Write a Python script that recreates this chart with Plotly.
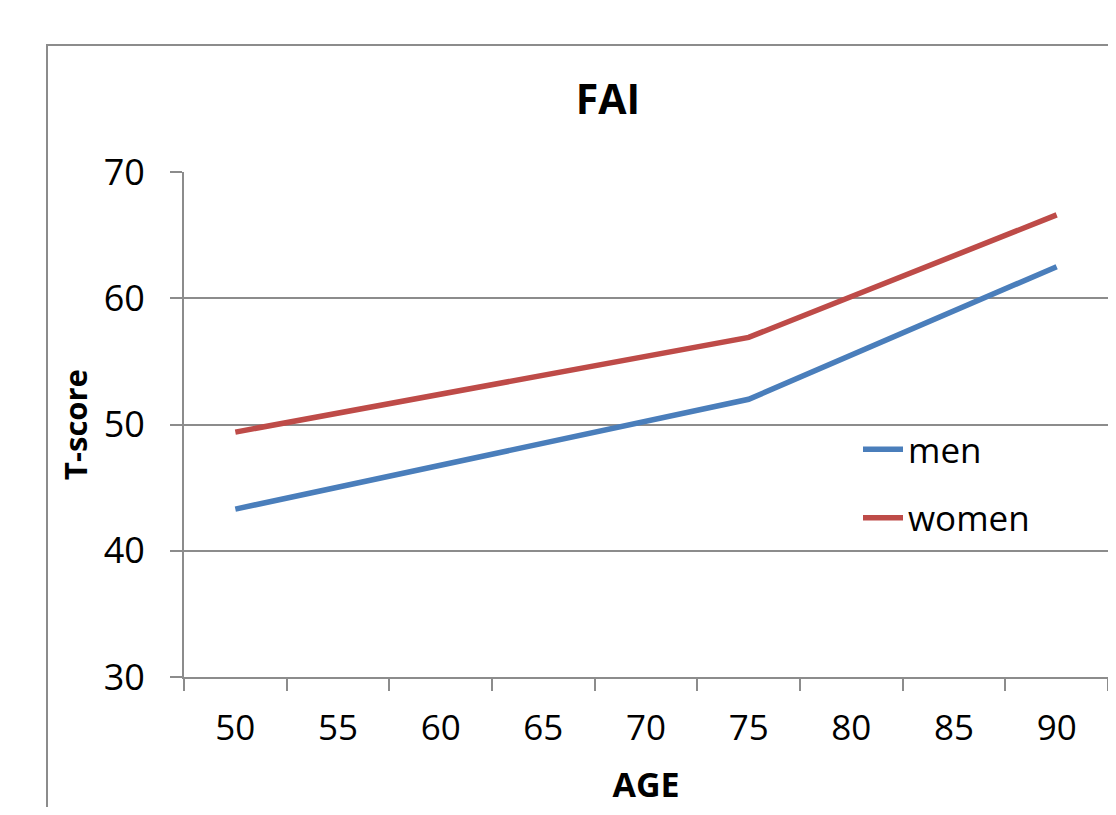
import plotly.graph_objects as go

ages = [50, 75, 90]
men = [43.3, 52.0, 62.5]
women = [49.4, 56.9, 66.6]
tick_ages = [50, 55, 60, 65, 70, 75, 80, 85, 90]
y_ticks = [30, 40, 50, 60, 70]

FONT = "Open Sans"
fig = go.Figure()
fig.add_trace(go.Scatter(x=ages, y=men, mode="lines", name="men", legendgroup="m",
                         line=dict(color="#4a7ebb", width=5.5)))
fig.add_trace(go.Scatter(x=ages, y=women, mode="lines", name="women", legendgroup="w",
                         line=dict(color="#be4b48", width=5.5)))

# figure coords (page has an 8px body margin)
W, H = 1100, 799
L, R, T, B = 176, 0, 164, 130
pw, ph = W - L - R, H - T - B

def px(x):
    return (x - L) / pw

def py(y):
    return (H - B - y) / ph

fig.add_shape(type="rect", xref="paper", yref="paper",
              x0=px(39), x1=px(1130), y0=py(830), y1=py(37),
              line=dict(color="#8c8c8c", width=2), layer="below")

fig.update_layout(
    width=W, height=H,
    margin=dict(l=L, r=R, t=T, b=B),
    paper_bgcolor="white", plot_bgcolor="white",
    font=dict(family=FONT, color="black"),
    title=dict(text="<b>FAI</b>", xref="container", yref="container",
               x=600 / W, xanchor="center",
               y=1 - 92 / H, yanchor="middle",
               font=dict(size=41, family=FONT)),
    showlegend=True,
    legend=dict(x=px(850), y=py(412), xanchor="left", yanchor="top",
                font=dict(size=35, family=FONT), bgcolor="rgba(0,0,0,0)",
                itemwidth=40, tracegroupgap=20),
    xaxis=dict(range=[47.5, 92.5], tickvals=tick_ages,
               ticktext=[str(a) for a in tick_ages],
               ticks="", showgrid=False, zeroline=False,
               showline=True, linecolor="#8c8c8c", linewidth=2,
               tickfont=dict(size=35, family=FONT),
               ticklabelstandoff=19,
               minor=dict(tick0=47.5, dtick=5, ticks="outside", ticklen=12,
                          tickcolor="#8c8c8c", tickwidth=2, showgrid=False),
               title=dict(text="<b>AGE</b>", font=dict(size=34, family=FONT),
                          standoff=26)),
    yaxis=dict(range=[30, 70], tickvals=y_ticks, ticks="outside", ticklen=12,
               tickcolor="#8c8c8c", tickwidth=2,
               showgrid=True, gridcolor="#8c8c8c", gridwidth=2,
               zeroline=False, showline=True, linecolor="#8c8c8c", linewidth=2,
               tickfont=dict(size=36, family=FONT), ticklabelstandoff=18,
               title=dict(text="<b>T-score</b>", font=dict(size=31, family=FONT),
                          standoff=7)),
)

fig.write_html("out.html")
